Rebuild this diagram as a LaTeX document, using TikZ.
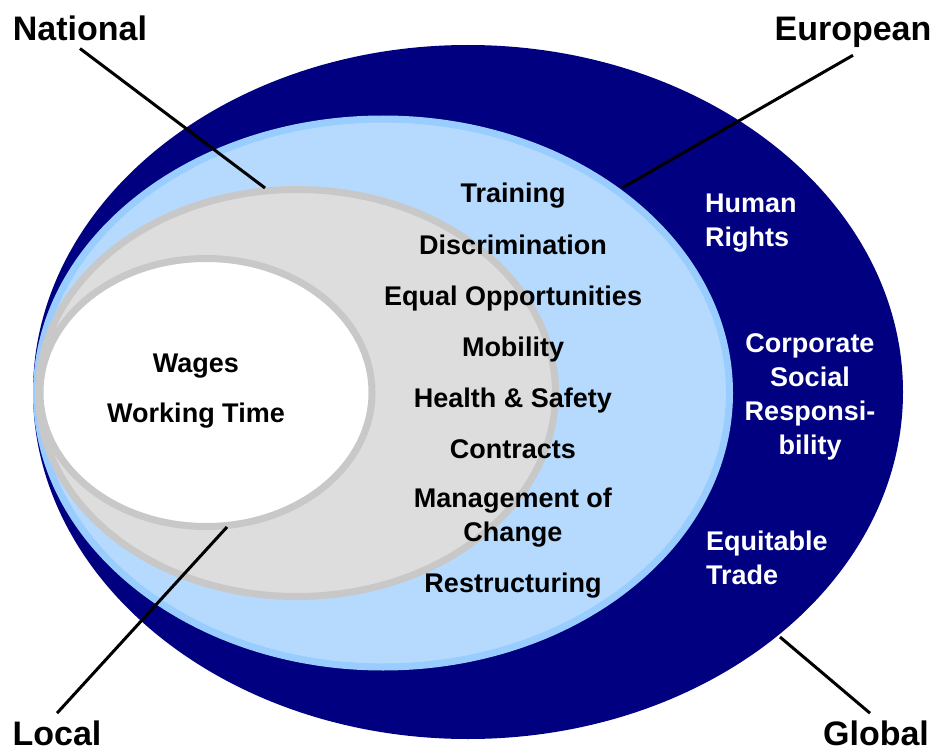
\documentclass[tikz,border=0pt]{standalone}
\usepackage{fontspec}
\setmainfont{Liberation Sans}
\usetikzlibrary{calc}

\definecolor{navy}{RGB}{0,0,128}
\definecolor{skyfill}{RGB}{181,218,254}
\definecolor{skyline}{RGB}{153,204,255}
\definecolor{greyfill}{RGB}{221,221,221}
\definecolor{greyline}{RGB}{200,200,200}

\begin{document}
\begin{tikzpicture}[x=1pt, y=-1pt
        , every node/.style={font=\bfseries\fontsize{27}{34}\selectfont
            , inner sep=0pt, anchor=base}
        , level/.style={font=\bfseries\fontsize{34}{40}\selectfont, inner sep=7pt}
        , ring/.style={line width=7pt}
        , pointer/.style={line width=3pt, black}
    ]
    \useasboundingbox (0,0) rectangle (935,749);

    %% the four areas, from outside in
    \fill[navy] (468,392) ellipse (435 and 347);
    \filldraw[ring, fill=skyfill, draw=skyline] (383,393) ellipse (346.5 and 274);
    \filldraw[ring, fill=greyfill, draw=greyline] (297,393) ellipse (258.5 and 203.5);
    \filldraw[ring, fill=white, draw=greyline] (206,392.5) ellipse (166 and 134);

    % local
    \node[] (wages) at (196,372) {Wages};
    \node[] (worktime) at (196,422) {Working Time};

    % national and european
    % (multi-line nodes sit on the baseline of their last line)
    \node[] (training) at (513,203) {Training};
    \node[] (discrim) at (513,254) {Discrimination};
    \node[] (equalopp) at (513,305) {Equal Opportunities};
    \node[] (mobility) at (513,356) {Mobility};
    \node[] (health) at (513,407) {Health \& Safety};
    \node[] (contracts) at (513,458) {Contracts};
    \node[align=center] (mgmt) at (513,541) {Management of\\Change};
    \node[] (restruct) at (513,592) {Restructuring};

    % global, white on navy
    \node[text=white, align=left, anchor=base west] (humanrights) at (705,246) {Human\\Rights};
    \node[text=white, align=center] (csr) at (810,454) {Corporate\\Social\\Responsi-\\bility};
    \node[text=white, align=left, anchor=base west] (equitable) at (706,584) {Equitable\\Trade};

    %% labels in the corners
    \node[level] (national) at (80,41) {National};
    \node[level] (european) at (853,41) {European};
    \node[level] (local) at (57,745) {Local};
    \node[level] (global) at (876,745) {Global};

    \coordinate (natEnd) at (265,188);
    \coordinate (eurEnd) at (622,188);
    \coordinate (locEnd) at (227,527);
    \coordinate (gloEnd) at (780,637);

    % pointers from label to area
    \draw[pointer] (national.south) -- (natEnd);
    \draw[pointer] (european.south) -- (eurEnd);
    \draw[pointer] (local.north) -- (locEnd);
    \draw[pointer] ($(global.north)+(-6,0)$) -- (gloEnd);
\end{tikzpicture}
\end{document}
